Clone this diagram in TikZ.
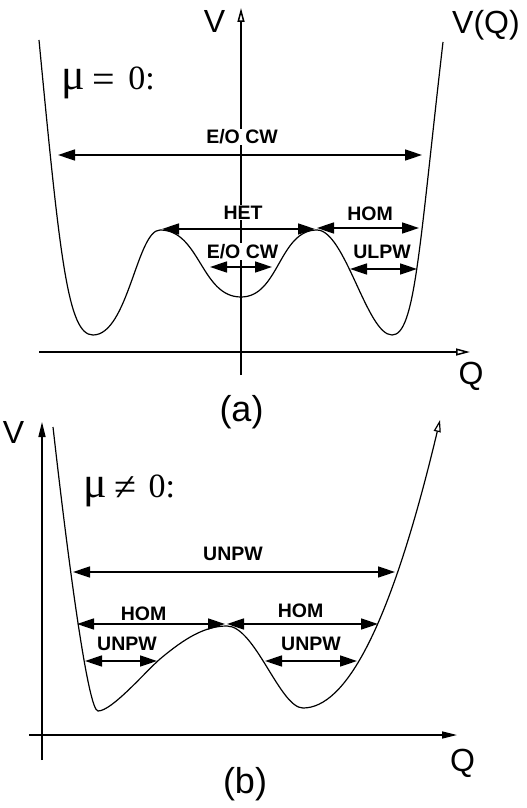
\documentclass[tikz,border=0pt]{standalone}
\usepackage{fontspec}
\setmainfont{Liberation Sans}
\newfontfamily\serifmu{Liberation Serif}
\usetikzlibrary{arrows.meta}
\begin{document}
\begin{tikzpicture}[x=1pt,y=-1pt,
  dimarrow/.style={line width=1.6pt,{Triangle[length=17pt,width=11pt]}-{Triangle[length=17pt,width=11pt]}},
  lbl/.style={font=\fontsize{19.5}{22}\selectfont\bfseries,fill=white,inner sep=1pt},
  axlbl/.style={font=\fontsize{32}{36}\selectfont,inner sep=0pt},
  sublbl/.style={font=\fontsize{36}{40}\selectfont,inner sep=0pt},
  mulbl/.style={font=\serifmu\fontsize{34}{38}\selectfont,inner sep=0pt,anchor=base west},
  axisopen/.style={line width=1.5pt,-{Triangle[open,length=14pt,width=7pt]}},
  axisfill/.style={line width=1.5pt,-{Triangle[length=15pt,width=7pt]}},
  curve/.style={line width=1.2pt}]
\useasboundingbox (0,0) rectangle (527,808);

% ---------------- panel (a) ----------------
\coordinate (aV0) at (241,375);
\coordinate (aV1) at (241,8);
\coordinate (aQ0) at (39,352);
\coordinate (aQ1) at (470,352);
\draw[axisopen] (aV0) -- (aV1);
\draw[axisopen] (aQ0) -- (aQ1);

\draw[curve] (39,40) .. controls (60,260) and (68,335) .. (93,335)
  .. controls (128,335) and (137,230) .. (160,230)
  .. controls (200,230) and (201,297) .. (241,297)
  .. controls (279,297) and (279,230) .. (317,230)
  .. controls (345,230) and (367,335) .. (392,335)
  .. controls (415,335) and (419,250) .. (443,42);

\coordinate (a1l) at (58,155);  \coordinate (a1r) at (422,155);
\coordinate (a2l) at (162,229); \coordinate (a2r) at (315,229);
\coordinate (a3l) at (317,228); \coordinate (a3r) at (419,228);
\coordinate (a4l) at (210,267); \coordinate (a4r) at (272,267);
\coordinate (a5l) at (350,269); \coordinate (a5r) at (417,269);
\draw[dimarrow] (a1l) -- (a1r);
\draw[dimarrow] (a2l) -- (a2r);
\draw[dimarrow] (a3l) -- (a3r);
\draw[dimarrow] (a4l) -- (a4r);
\draw[dimarrow] (a5l) -- (a5r);

\node[lbl] (la1) at (242,137) {E/O CW};
\node[lbl] (la2) at (243,212.5) {HET};
\node[lbl] (la3) at (370,214) {HOM};
\node[lbl] (la4) at (242.5,251.5) {E/O CW};
\node[lbl] (la5) at (382,252) {ULPW};

\node[axlbl] (aVl) at (214.5,21.5) {V};
\node[axlbl] (aVQ) at (486,25) {V(Q)};
\node[axlbl] (aQl) at (471,376) {Q};
\node[sublbl] (aa) at (241.5,412) {(a)};
\node[mulbl] (amu) at (61,89) {{\fontsize{44}{48}\selectfont μ}\hspace{8pt}\raisebox{-3pt}{\fontsize{40}{44}\selectfont =}\hspace{13pt}0:};

% ---------------- panel (b) ----------------
\coordinate (bV0) at (42,760);
\coordinate (bV1) at (42,422);
\coordinate (bQ0) at (29,735);
\coordinate (bQ1) at (457,735);
\draw[axisfill] (bV0) -- (bV1);
\draw[axisfill] (bQ0) -- (bQ1);

\draw[curve,-{Triangle[open,length=12pt,width=7pt]}] (53,427) .. controls (68,560) and (88,711) .. (98,711)
  .. controls (112,711) and (145,672) .. (160,659)
  .. controls (185,638) and (205,626) .. (227,626)
  .. controls (255,626) and (280,708) .. (303,708)
  .. controls (345,708) and (390,630) .. (440,420);

\coordinate (b1l) at (73,572);  \coordinate (b1r) at (395,572);
\coordinate (b2l) at (77,624);  \coordinate (b2r) at (225,624);
\coordinate (b3l) at (227,624); \coordinate (b3r) at (378,624);
\coordinate (b4l) at (85,661);  \coordinate (b4r) at (157,661);
\coordinate (b5l) at (265,661); \coordinate (b5r) at (357,661);
\draw[dimarrow] (b1l) -- (b1r);
\draw[dimarrow] (b2l) -- (b2r);
\draw[dimarrow] (b3l) -- (b3r);
\draw[dimarrow] (b4l) -- (b4r);
\draw[dimarrow] (b5l) -- (b5r);

\node[lbl] (lb1) at (233,554) {UNPW};
\node[lbl] (lb2) at (143.5,614) {HOM};
\node[lbl] (lb3) at (300.5,611) {HOM};
\node[lbl] (lb4) at (127,643.5) {UNPW};
\node[lbl] (lb5) at (311,643.5) {UNPW};

\node[axlbl] (bVl) at (13.5,432) {V};
\node[axlbl] (bQl) at (462.5,763) {Q};
\node[sublbl] (bb) at (245,784) {(b)};
\node[mulbl] (bmu) at (83,497) {{\fontsize{44}{48}\selectfont μ}\hspace{8pt}\raisebox{-3pt}{\fontsize{40}{44}\selectfont ≠}\hspace{12pt}0:};
\end{tikzpicture}
\end{document}
